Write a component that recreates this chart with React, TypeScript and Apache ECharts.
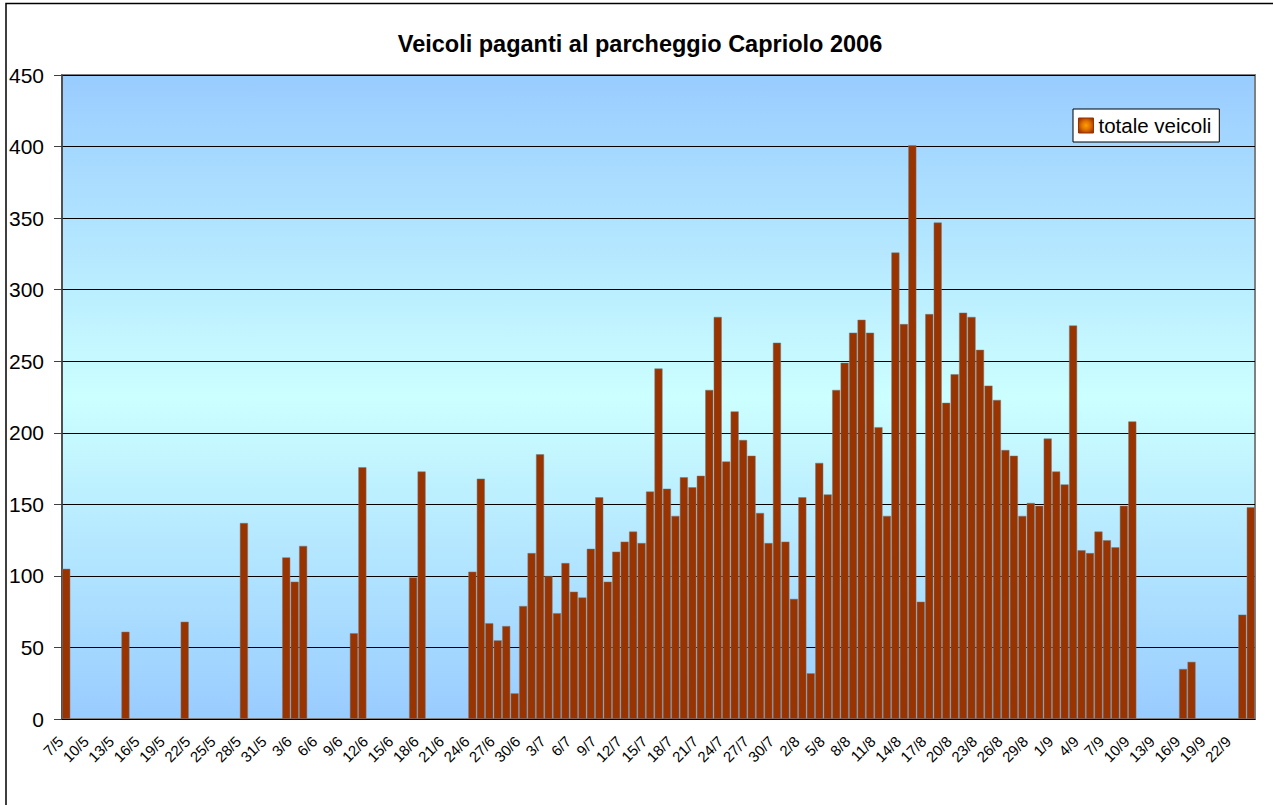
import React, { useEffect, useRef } from "react";
import * as echarts from "echarts";

const TITLE = "Veicoli paganti al parcheggio Capriolo 2006";
const SERIES_NAME = "totale veicoli";

const daysMay = ["7/5","8/5","9/5","10/5","11/5","12/5","13/5","14/5","15/5","16/5","17/5","18/5","19/5","20/5","21/5","22/5","23/5","24/5","25/5","26/5","27/5","28/5","29/5","30/5","31/5"];
const daysJun = ["1/6","2/6","3/6","4/6","5/6","6/6","7/6","8/6","9/6","10/6","11/6","12/6","13/6","14/6","15/6","16/6","17/6","18/6","19/6","20/6","21/6","22/6","23/6","24/6","25/6","26/6","27/6","28/6","29/6","30/6"];
const daysJul = ["1/7","2/7","3/7","4/7","5/7","6/7","7/7","8/7","9/7","10/7","11/7","12/7","13/7","14/7","15/7","16/7","17/7","18/7","19/7","20/7","21/7","22/7","23/7","24/7","25/7","26/7","27/7","28/7","29/7","30/7","31/7"];
const daysAug = ["1/8","2/8","3/8","4/8","5/8","6/8","7/8","8/8","9/8","10/8","11/8","12/8","13/8","14/8","15/8","16/8","17/8","18/8","19/8","20/8","21/8","22/8","23/8","24/8","25/8","26/8","27/8","28/8","29/8","30/8","31/8"];
const daysSep = ["1/9","2/9","3/9","4/9","5/9","6/9","7/9","8/9","9/9","10/9","11/9","12/9","13/9","14/9","15/9","16/9","17/9","18/9","19/9","20/9","21/9","22/9","23/9","24/9"];

const categories = [...daysMay, ...daysJun, ...daysJul, ...daysAug, ...daysSep];

// values per day (null = no data)
const valuesMay = [105,null,null,null,null,null,null,61,null,null,null,null,null,null,68,null,null,null,null,null,null,137,null,null,null];
const valuesJun = [null,113,96,121,null,null,null,null,null,60,176,null,null,null,null,null,99,173,null,null,null,null,null,103,168,67,55,65,18,79];
const valuesJul = [116,185,100,74,109,89,85,119,155,96,117,124,131,123,159,245,161,142,169,162,170,230,281,180,215,195,184,144,123,263,124];
const valuesAug = [84,155,32,179,157,230,249,270,279,270,204,142,326,276,401,82,283,347,221,241,284,281,258,233,223,188,184,142,151,149,196];
const valuesSep = [173,164,275,118,116,131,125,120,149,208,null,null,null,null,null,35,40,null,null,null,null,null,73,148];

const values = [...valuesMay, ...valuesJun, ...valuesJul, ...valuesAug, ...valuesSep];

const FONT = "'Liberation Sans', Arial, sans-serif";

export default function App() {
  const ref = useRef<HTMLDivElement>(null);
  useEffect(() => {
    if (!ref.current) return;
    const chart = echarts.init(ref.current, undefined, { renderer: "svg" });
    chart.setOption({
      animation: false,
      backgroundColor: "#ffffff",
      textStyle: { fontFamily: FONT },
      graphic: [
        {
          type: "rect",
          shape: { x: 6, y: 3.5, width: 1300, height: 900 },
          style: { fill: "none", stroke: "#000", lineWidth: 1.5 },
          silent: true,
        },
        {
          type: "text",
          x: 640,
          y: 44,
          style: {
            text: TITLE,
            fontFamily: FONT,
            fontSize: 23.5,
            fontWeight: "bold",
            fill: "#000",
            textAlign: "center",
            textVerticalAlign: "middle",
          },
        },
      ],
      legend: {
        left: 1073,
        top: 109,
        padding: [6, 8, 6, 5],
        backgroundColor: "#ffffff",
        borderColor: "#000",
        borderWidth: 1,
        itemWidth: 15,
        itemHeight: 15,
        icon: "rect",
        textStyle: { fontSize: 20.5, color: "#000", fontFamily: FONT },
        data: [
          {
            name: SERIES_NAME,
            itemStyle: {
              color: {
                type: "radial",
                x: 0.5,
                y: 0.5,
                r: 0.6,
                colorStops: [
                  { offset: 0, color: "#ffa000" },
                  { offset: 0.5, color: "#e07000" },
                  { offset: 1, color: "#993300" },
                ],
              },
              borderColor: "#993300",
              borderWidth: 1,
            },
          },
        ],
      },
      grid: {
        left: 62,
        top: 75,
        width: 1193,
        height: 644,
        show: true,
        borderColor: "#808080",
        borderWidth: 2,
        backgroundColor: {
          type: "linear",
          x: 0,
          y: 0,
          x2: 0,
          y2: 1,
          colorStops: [
            { offset: 0, color: "#99ccff" },
            { offset: 0.5, color: "#ccffff" },
            { offset: 1, color: "#99ccff" },
          ],
        },
      },
      xAxis: {
        type: "category",
        data: categories,
        boundaryGap: true,
        axisLine: { lineStyle: { color: "#000", width: 1 } },
        axisTick: { interval: 2, length: 5, lineStyle: { color: "#000" } },
        axisLabel: {
          interval: 2,
          rotate: 45,
          fontSize: 15,
          margin: 14,
          padding: [0, 8, 0, 0],
          color: "#000",
          fontFamily: FONT,
        },
        splitLine: { show: false },
      },
      yAxis: {
        type: "value",
        min: 0,
        max: 450,
        interval: 50,
        axisLine: { show: true, lineStyle: { color: "#404040", width: 1.5 } },
        axisTick: { show: true, length: 8, lineStyle: { color: "#404040" } },
        axisLabel: { fontSize: 21, color: "#000", margin: 18, fontFamily: FONT },
        splitLine: { show: true, lineStyle: { color: "#000", width: 1 } },
      },
      series: [
        {
          name: SERIES_NAME,
          type: "bar",
          data: values,
          barCategoryGap: "3%",
          itemStyle: {
            color: "#993300",
            borderColor: "rgba(120,120,120,0.7)",
            borderWidth: 0.7,
          },
        },
      ],
    });
    return () => chart.dispose();
  }, []);
  return (
    <div
      ref={ref}
      style={{ position: "absolute", left: 0, top: 0, width: 1273, height: 805 }}
    />
  );
}
